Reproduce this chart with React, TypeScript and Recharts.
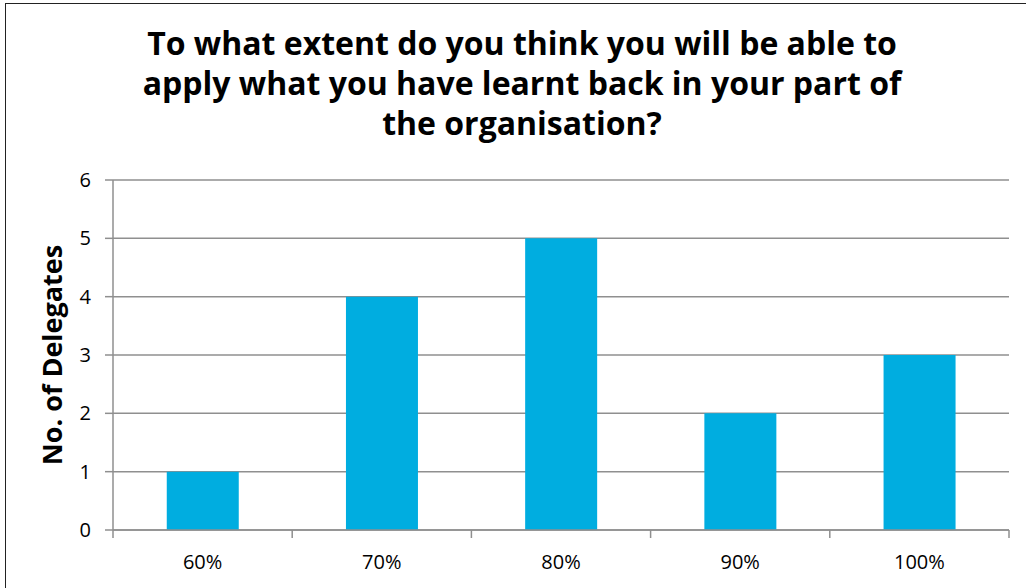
import React from "react";
import { BarChart, Bar, XAxis, YAxis, CartesianGrid } from "recharts";

// survey results: share of learning applicable vs number of delegates
const categories = ["60%", "70%", "80%", "90%", "100%"];
const delegates = [1, 4, 5, 2, 3];
const yTicks = [0, 1, 2, 3, 4, 5, 6];
const titleLines = [
  "To what extent do you think you will be able to",
  "apply what you have learnt back in your part of",
  "the organisation?",
];

const data = categories.map((c, i) => ({ name: c, value: delegates[i] }));

const FONT = "'Open Sans', 'Noto Sans', sans-serif";
const GRID = "#8f8f8f";

// label at category centre, tick mark at the category boundaries
const CategoryTick = (props: any) => {
  const { x, y, payload, index, visibleTicksCount } = props;
  const half = payload?.offset ?? 89.6;
  const axisY = 530;
  const last = index === (visibleTicksCount ?? categories.length) - 1;
  return (
    <g>
      <line x1={x - half} x2={x - half} y1={axisY} y2={axisY + 8} stroke={GRID} strokeWidth={1.5} />
      {last && <line x1={x + half} x2={x + half} y1={axisY} y2={axisY + 8} stroke={GRID} strokeWidth={1.5} />}
      <text x={x} y={y} dy={31} textAnchor="middle" fill="#000" fontSize={20} fontFamily={FONT}>
        {payload.value}
      </text>
    </g>
  );
};

export default function App() {
  return (
    <div style={{ position: "fixed", left: 0, top: 0, width: 1026, height: 588, background: "#fff", overflow: "hidden" }}>
      <div
        style={{
          position: "absolute",
          left: 5,
          top: 3,
          width: 1040,
          height: 620,
          borderTop: "1.5px solid #222",
          borderLeft: "1.5px solid #222",
          boxSizing: "border-box",
        }}
      />
      <div
        style={{
          position: "absolute",
          left: 22,
          top: 23,
          width: 1000,
          textAlign: "center",
          fontFamily: FONT,
          fontWeight: 700,
          fontSize: 32,
          lineHeight: "40px",
          color: "#000",
        }}
      >
        {titleLines.map((l) => (
          <div key={l}>{l}</div>
        ))}
      </div>
      <BarChart
        width={1026}
        height={588}
        data={data}
        margin={{ top: 180, right: 17, left: 43, bottom: 28 }}
        barCategoryGap="30%"
        style={{ position: "absolute", left: 0, top: 0 }}
      >
        <CartesianGrid vertical={false} stroke={GRID} strokeWidth={1.5} />
        <XAxis
          dataKey="name"
          height={30}
          axisLine={{ stroke: GRID, strokeWidth: 1.5 }}
          tickLine={false}
          tick={<CategoryTick />}
          interval={0}
        />
        <YAxis
          width={70}
          domain={[0, 6]}
          ticks={yTicks}
          interval={0}
          axisLine={{ stroke: GRID, strokeWidth: 1.5 }}
          tickLine={{ stroke: GRID, strokeWidth: 1.5 }}
          tickSize={8}
          tickMargin={14}
          tick={{ fill: "#000", fontSize: 20, fontFamily: FONT }}
          label={{
            value: "No. of Delegates",
            angle: -90,
            position: "insideLeft",
            offset: 9,
            fontSize: 27,
            fontWeight: 700,
            fontFamily: FONT,
            fill: "#000",
            style: { textAnchor: "middle", fontFamily: FONT, fontWeight: 700, fontSize: 27, fill: "#000" },
          }}
        />
        <Bar dataKey="value" fill="#00ade0" isAnimationActive={false} />
      </BarChart>
    </div>
  );
}
